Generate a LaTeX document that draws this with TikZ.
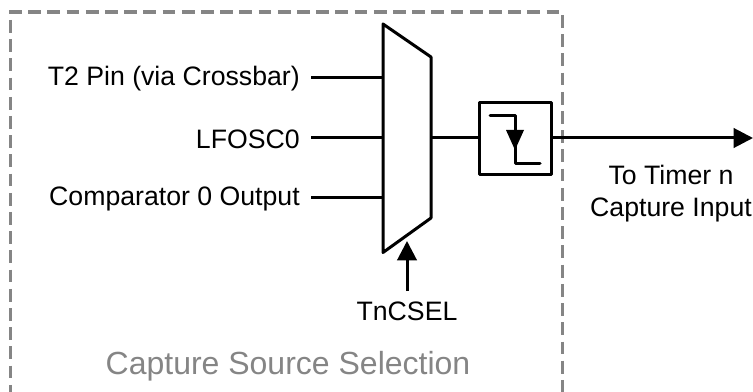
\documentclass[tikz,border=0pt]{standalone}
\usepackage{fontspec}
\setmainfont{Liberation Sans}
\usetikzlibrary{arrows.meta}
\definecolor{framegrey}{HTML}{858585}
\tikzset{
  px/.style={x=0.75pt,y=-0.75pt},
  wire/.style={line width=2.25pt,draw=black,line cap=butt},
  thick wire/.style={line width=2.25pt,draw=black,line join=round},
  head/.style={-{Triangle[length=14.5pt,width=14.5pt]}},
  lbl/.style={font=\fontsize{20pt}{24pt}\selectfont,text=black,inner sep=0pt,align=center},
  frame/.style={line width=2.5pt,draw=framegrey,dash pattern=on 9.6pt off 4.8pt},
}
\begin{document}
\begin{tikzpicture}[px]
\useasboundingbox (0,0) rectangle (753,392);
\begin{scope}
\clip (0,0) rectangle (753,392);
\draw[frame] (9,12) -- (562.7,12) -- (562.7,392);
\draw[frame] (10.7,20) -- (10.7,392);
\end{scope}
\coordinate (muxTL) at (383,24);
\coordinate (muxTR) at (431,57);
\coordinate (muxBR) at (431,218);
\coordinate (muxBL) at (383,252.5);
\draw[thick wire,fill=white] (muxTL) -- (muxTR) -- (muxBR) -- (muxBL) -- cycle;
\node[lbl,anchor=east] (t2) at (300,79) {T2 Pin (via Crossbar)};
\node[lbl,anchor=east] (lf) at (300,139) {LFOSC0};
\node[lbl,anchor=east] (cmp) at (300,199) {Comparator 0 Output};
\coordinate (in1) at (311,78);
\coordinate (in2) at (311,138);
\coordinate (in3) at (311,198);
\draw[wire] (in1) -- (383,78);
\draw[wire] (in2) -- (383,138);
\draw[wire] (in3) -- (383,198);
\node[thick wire,draw,fill=white,minimum width=54pt,minimum height=54pt,inner sep=0pt] (edge) at (515,139) {};
\draw[wire] (431,138) -- (edge.west |- 0,138);
\coordinate (tip) at (753,138);
\draw[wire,head] (edge.east |- 0,138) -- (tip);
\draw[thick wire,line cap=round] (490,116) -- (515,116) -- (515,163.5) -- (540,163.5);
\fill (506,130) -- (524,130) -- (515,150) -- cycle;
\coordinate (selS) at (407,291);
\coordinate (selT) at (407,241);
\draw[wire,head] (selS) -- (selT);
\node[lbl] (sel) at (407,311) {TnCSEL};
\node[lbl] (out) at (671,194) {To Timer n\\Capture Input};
\node[lbl,text=framegrey,font=\fontsize{24pt}{28pt}\selectfont] (title) at (288,366) {Capture Source Selection};
\end{tikzpicture}
\end{document}
